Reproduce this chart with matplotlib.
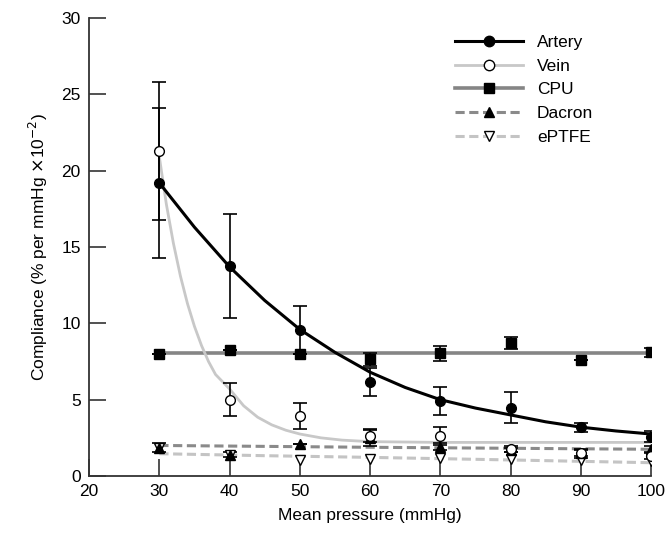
import numpy as np
import matplotlib.pyplot as plt
from matplotlib.lines import Line2D

plt.rcParams['font.family'] = ['Liberation Sans', 'DejaVu Sans']

# measured points (mean pressure in mmHg)
pressure = [30, 40, 50, 60, 70, 80, 90, 100]

artery = [19.2, 13.75, 9.56, 6.15, 4.93, 4.47, 3.2, 2.57]
artery_err = [4.9, 3.4, 1.6, 0.93, 0.93, 1.0, 0.3, 0.35]
vein = [21.3, 5.0, 3.95, 2.6, 2.64, 1.75, 1.5, 1.3]
vein_err = [4.5, 1.1, 0.85, 0.4, 0.6, 0.2, 0.2, 0.2]
cpu = [8.0, 8.25, 7.97, 7.64, 8.04, 8.73, 7.6, 8.1]
cpu_err = [0, 0, 0, 0.42, 0.48, 0.4, 0, 0.28]
dacron = [1.85, 1.4, 2.1, 2.5, 1.92, 1.7, 1.5, 1.75]
dacron_err = [0.3, 0.15, 0, 0.55, 0.25, 0.15, 0.3, 0.2]
eptfe = [1.85, 1.4, 1.05, 1.1, 1.18, 1.1, 1.05, 0.95]

# fitted curves
artery_fit_x = [30, 35, 40, 45, 50, 55, 60, 65, 70, 75, 80, 85, 90, 95, 100]
artery_fit_y = [19.2, 16.3, 13.7, 11.5, 9.6, 8.1, 6.8, 5.8, 5.0, 4.45, 4.0, 3.55, 3.2, 2.95, 2.75]
vein_fit_x = [30, 31, 32, 33, 34, 35, 36, 37, 38, 40, 42, 44, 46, 48, 50, 53, 56, 60, 70, 80, 90, 100]
vein_fit_y = [20.9, 17.8, 15.25, 13.1, 11.3, 9.8, 8.55, 7.5, 6.65, 5.7, 4.6, 3.85, 3.35, 3.0, 2.75,
              2.5, 2.35, 2.25, 2.2, 2.2, 2.2, 2.2]
cpu_fit_x = [30, 100]
cpu_fit_y = [8.07, 8.07]
dacron_fit_x = [30, 60, 100]
dacron_fit_y = [2.0, 1.88, 1.75]
eptfe_fit_x = [30, 45, 60, 80, 100]
eptfe_fit_y = [1.46, 1.33, 1.22, 1.05, 0.87]

fig = plt.figure(figsize=(6.65, 5.49), dpi=100)
ax = fig.add_axes([0.134, 0.133, 0.845, 0.834])

c_vein = '#c8c8c8'
c_cpu = '#858585'
c_dac = '#8a8a8a'
c_ept = '#c4c4c4'
dash = (0, (3, 1.5))

# fit lines
ax.plot(eptfe_fit_x, eptfe_fit_y, color=c_ept, lw=2.2, ls=dash, zorder=1)
ax.plot(dacron_fit_x, dacron_fit_y, color=c_dac, lw=2.2, ls=dash, zorder=1)
ax.plot(cpu_fit_x, cpu_fit_y, color=c_cpu, lw=2.6, zorder=1)
ax.plot(vein_fit_x, vein_fit_y, color=c_vein, lw=2, zorder=1)
ax.plot(artery_fit_x, artery_fit_y, color='black', lw=2.2, zorder=2)

# error bars
eb = dict(fmt='none', ecolor='black', elinewidth=1.2, capsize=5, capthick=1.2, zorder=3)
for y, e in [(artery, artery_err), (vein, vein_err), (cpu, cpu_err), (dacron, dacron_err)]:
    ax.errorbar(pressure, y, yerr=e, **eb)

# markers
ms = 7
ax.plot(pressure, eptfe, ls='none', marker='v', ms=ms, mfc='white', mec='black', mew=1, zorder=4)
ax.plot(pressure, dacron, ls='none', marker='^', ms=ms, mfc='black', mec='black', zorder=4)
ax.plot(pressure, cpu, ls='none', marker='s', ms=ms, mfc='black', mec='black', zorder=4)
ax.plot(pressure, vein, ls='none', marker='o', ms=ms, mfc='white', mec='black', mew=1, zorder=4)
ax.plot(pressure, artery, ls='none', marker='o', ms=ms, mfc='black', mec='black', zorder=5)

ax.set_xlim(20, 100)
ax.set_ylim(0, 30)
ax.set_xticks(np.arange(20, 101, 10))
ax.set_yticks(np.arange(0, 31, 5))
for s in ['top', 'right']:
    ax.spines[s].set_visible(False)
for s in ['left', 'bottom']:
    ax.spines[s].set_color('#333333')
    ax.spines[s].set_linewidth(1.3)
ax.tick_params(direction='in', length=12, width=1.2, color='#333333', labelsize=12.5, pad=6)

ax.set_xlabel('Mean pressure (mmHg)', fontsize=12.5, labelpad=6)
ax.set_ylabel('Compliance (% per mmHg $\\times$10$^{-2}$)', fontsize=12.5, labelpad=8)

handles = [
    Line2D([], [], color='black', lw=2.2, marker='o', ms=7.5, mfc='black', mec='black'),
    Line2D([], [], color=c_vein, lw=2, marker='o', ms=7.5, mfc='white', mec='black'),
    Line2D([], [], color=c_cpu, lw=2.6, marker='s', ms=7.5, mfc='black', mec='black'),
    Line2D([], [], color=c_dac, lw=2.2, ls=dash, marker='^', ms=7.5, mfc='black', mec='black'),
    Line2D([], [], color=c_ept, lw=2.2, ls=dash, marker='v', ms=7.5, mfc='white', mec='black'),
]
labels = ['Artery', 'Vein', 'CPU', 'Dacron', 'ePTFE']
ax.legend(handles, labels, loc='upper right', bbox_to_anchor=(0.925, 0.998), frameon=False,
          fontsize=12.5, handlelength=3.9, labelspacing=0.5, handletextpad=0.8)

fig.savefig('out.png', dpi=100)
